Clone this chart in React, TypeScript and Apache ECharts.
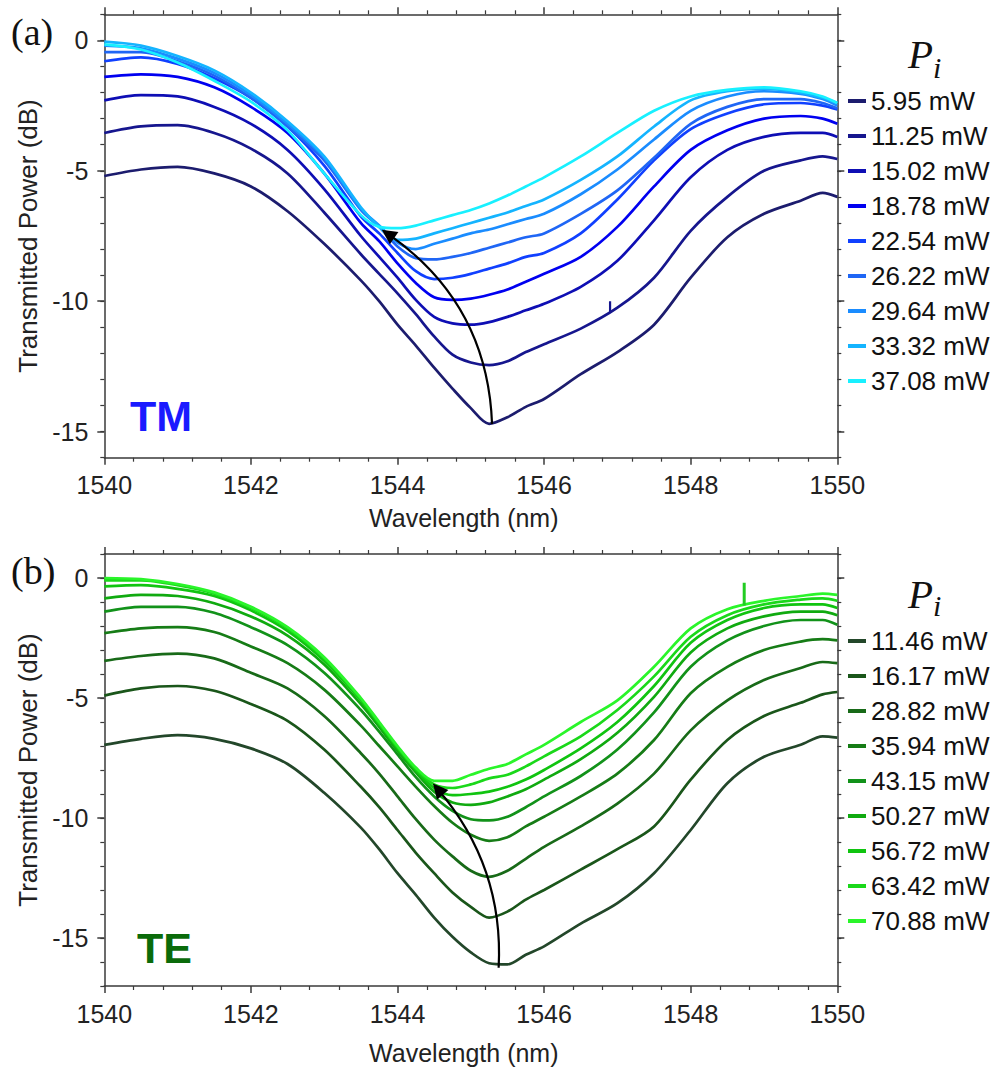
import React, { useEffect, useRef } from 'react';
import * as echarts from 'echarts';

// ---------- shared wavelength grid (nm) ----------
const wavelengths = [1540, 1540.5, 1541, 1541.5, 1542, 1542.5, 1543, 1543.5, 1543.75, 1544, 1544.25, 1544.5, 1544.75, 1545, 1545.25, 1545.5, 1545.75, 1546, 1546.5, 1547, 1547.5, 1548, 1548.5, 1549, 1549.5, 1549.8, 1550];

// ---------- panel (a) TM ----------
const tmNames = ['5.95 mW', '11.25 mW', '15.02 mW', '18.78 mW', '22.54 mW', '26.22 mW', '29.64 mW', '33.32 mW', '37.08 mW'];
const tmColors = ['#1c1c6e', '#16168e', '#0e0eb4', '#0000f0', '#1040ff', '#1f66f5', '#1a8cff', '#14b4ff', '#18f0ff'];
const tm595 = [-5.2, -4.95, -4.85, -5.1, -5.6, -6.55, -7.8, -9.2, -10.0, -10.9, -11.7, -12.55, -13.35, -14.1, -14.7, -14.45, -14.05, -13.75, -12.8, -11.95, -10.9, -9.1, -7.55, -6.65, -6.15, -5.85, -6.0];
const tm1125 = [-3.55, -3.3, -3.25, -3.55, -4.15, -5.1, -6.6, -8.2, -8.95, -9.7, -10.5, -11.35, -12.05, -12.35, -12.45, -12.3, -11.95, -11.65, -11.05, -10.25, -9.1, -7.3, -6.0, -5.0, -4.6, -4.45, -4.55];
const tm1502 = [-2.3, -2.1, -2.15, -2.55, -3.2, -4.2, -5.7, -7.5, -8.3, -9.1, -9.95, -10.6, -10.85, -10.9, -10.8, -10.6, -10.35, -10.1, -9.45, -8.45, -6.9, -5.25, -4.2, -3.7, -3.55, -3.55, -3.7];
const tm1878 = [-1.4, -1.3, -1.4, -1.8, -2.55, -3.55, -5.1, -7.0, -7.7, -8.55, -9.3, -9.85, -9.95, -9.9, -9.75, -9.55, -9.25, -8.95, -8.3, -7.15, -5.6, -4.2, -3.45, -3.0, -2.9, -3.0, -3.2];
const tm2254 = [-0.8, -0.65, -0.9, -1.45, -2.2, -3.3, -4.8, -6.75, -7.4, -8.15, -8.85, -9.15, -9.1, -8.95, -8.75, -8.55, -8.3, -8.15, -7.4, -6.1, -4.6, -3.4, -2.8, -2.45, -2.4, -2.5, -2.65];
const tm2622 = [-0.45, -0.45, -0.8, -1.35, -2.2, -3.3, -4.6, -6.5, -7.15, -7.9, -8.35, -8.4, -8.3, -8.15, -7.95, -7.75, -7.55, -7.4, -6.65, -5.75, -4.5, -3.2, -2.55, -2.25, -2.25, -2.4, -2.6];
const tm2964 = [-0.2, -0.3, -0.7, -1.25, -2.1, -3.2, -4.5, -6.45, -7.1, -7.75, -8.0, -7.8, -7.6, -7.4, -7.25, -7.05, -6.85, -6.65, -5.9, -4.95, -3.8, -2.7, -2.15, -1.95, -2.05, -2.25, -2.5];
const tm3332 = [-0.05, -0.2, -0.6, -1.15, -2.0, -3.1, -4.45, -6.4, -7.15, -7.65, -7.6, -7.4, -7.2, -7.0, -6.8, -6.6, -6.35, -6.1, -5.35, -4.45, -3.3, -2.3, -1.95, -1.85, -2.0, -2.2, -2.4];
const tm3708 = [-0.15, -0.35, -0.85, -1.55, -2.35, -3.45, -5.1, -6.7, -7.15, -7.2, -7.1, -6.9, -6.7, -6.5, -6.25, -5.95, -5.6, -5.25, -4.45, -3.55, -2.7, -2.15, -1.9, -1.8, -1.95, -2.15, -2.4];
const tmCurves = [tm595, tm1125, tm1502, tm1878, tm2254, tm2622, tm2964, tm3332, tm3708];
const tmSpike = [[1546.9, -10.45], [1546.9, -10.0]];
const tmArrow = [[1545.29, -14.71], [1543.87, -7.42]];

// ---------- panel (b) TE ----------
const teNames = ['11.46 mW', '16.17 mW', '28.82 mW', '35.94 mW', '43.15 mW', '50.27 mW', '56.72 mW', '63.42 mW', '70.88 mW'];
const teColors = ['#23472a', '#1a561a', '#186a18', '#167c16', '#12921a', '#10aa10', '#10c410', '#1ad81a', '#2af52a'];
const te1146 = [-6.95, -6.7, -6.55, -6.7, -7.1, -7.75, -8.95, -10.4, -11.3, -12.3, -13.2, -14.15, -14.95, -15.6, -16.05, -16.1, -15.7, -15.35, -14.4, -13.55, -12.3, -10.5, -8.55, -7.45, -6.95, -6.6, -6.65];
const te1617 = [-4.9, -4.6, -4.5, -4.7, -5.25, -5.95, -7.15, -8.7, -9.55, -10.5, -11.45, -12.3, -13.1, -13.7, -14.15, -13.9, -13.4, -13.0, -12.15, -11.3, -10.35, -8.4, -6.75, -5.75, -5.2, -4.85, -4.75];
const te2882 = [-3.45, -3.25, -3.15, -3.35, -3.95, -4.6, -5.75, -7.3, -8.15, -9.1, -10.05, -10.9, -11.6, -12.2, -12.45, -12.2, -11.7, -11.2, -10.35, -9.4, -8.15, -6.35, -5.1, -4.25, -3.75, -3.5, -3.55];
const te3594 = [-2.3, -2.1, -2.05, -2.25, -2.85, -3.55, -4.65, -6.15, -7.0, -7.85, -8.7, -9.5, -10.2, -10.7, -10.95, -10.8, -10.35, -9.95, -9.1, -8.15, -6.75, -4.8, -3.7, -3.0, -2.65, -2.55, -2.6];
const te4315 = [-1.4, -1.2, -1.2, -1.45, -2.05, -2.8, -3.95, -5.5, -6.4, -7.35, -8.3, -9.1, -9.7, -10.05, -10.1, -9.95, -9.55, -9.1, -8.25, -7.15, -5.6, -3.7, -2.6, -2.0, -1.75, -1.75, -1.95];
const te5027 = [-0.85, -0.7, -0.75, -1.05, -1.6, -2.4, -3.6, -5.25, -6.2, -7.2, -8.1, -8.9, -9.35, -9.45, -9.35, -9.1, -8.8, -8.4, -7.55, -6.45, -4.95, -3.1, -2.1, -1.6, -1.4, -1.4, -1.55];
const te5672 = [-0.35, -0.3, -0.45, -0.75, -1.35, -2.2, -3.45, -5.1, -6.1, -7.1, -8.0, -8.75, -9.05, -9.0, -8.9, -8.7, -8.4, -8.0, -7.1, -6.0, -4.5, -2.7, -1.75, -1.25, -1.1, -1.1, -1.25];
const te6342 = [-0.1, -0.1, -0.3, -0.65, -1.25, -2.1, -3.35, -5.05, -6.05, -7.05, -7.95, -8.6, -8.75, -8.6, -8.35, -8.2, -7.85, -7.43, -6.6, -5.5, -4.1, -2.45, -1.55, -1.1, -0.9, -0.85, -0.95];
const te7088 = [0.0, -0.05, -0.25, -0.6, -1.2, -2.05, -3.3, -5.0, -6.0, -7.0, -7.9, -8.45, -8.45, -8.2, -7.95, -7.75, -7.35, -6.95, -6.0, -5.1, -3.7, -2.1, -1.3, -0.95, -0.75, -0.65, -0.7];
const teCurves = [te1146, te1617, te2882, te3594, te4315, te5027, te5672, te6342, te7088];
const teSpike = [[1548.73, -1.15], [1548.73, -0.2]];
const teArrow = [[1545.38, -16.24], [1544.55, -8.8]];

// ---------- axes ----------
const xMin = 1540;
const xMax = 1550;
const xStep = 2;
const yMajorTicks = [0, -5, -10, -15];
const yRangeA = [-16, 1];
const yRangeB = [-17, 1];

const AXIS_COLOR = '#3a3a3a';
const SANS = 'Liberation Sans, Arial, sans-serif';
const SERIF = 'Liberation Serif, Times New Roman, serif';

function xAxisDef(gridIndex: number, position: 'top' | 'bottom', nameGap: number) {
  const bottom = position === 'bottom';
  return {
    type: 'value',
    gridIndex,
    position,
    min: xMin,
    max: xMax,
    interval: xStep,
    name: bottom ? 'Wavelength (nm)' : '',
    nameLocation: 'middle',
    nameGap,
    nameTextStyle: { fontSize: 25, fontFamily: SANS, color: '#222', padding: [0, 14, 0, 0] },
    axisLine: { show: true, onZero: false, lineStyle: { color: AXIS_COLOR, width: 1.5 } },
    axisTick: { show: true, inside: false, length: 7, lineStyle: { color: AXIS_COLOR, width: 1.5 } },
    minorTick: { show: true, splitNumber: 5, length: 4, lineStyle: { color: AXIS_COLOR, width: 1.2 } },
    axisLabel: {
      show: bottom,
      fontSize: 25,
      fontFamily: SANS,
      color: '#222',
      margin: 15,
      formatter: (v: number) => String(v),
    },
    splitLine: { show: false },
    minorSplitLine: { show: false },
  };
}

function yAxisMajor(gridIndex: number, range: number[], position: 'left' | 'right') {
  const left = position === 'left';
  return {
    type: 'value',
    gridIndex,
    position,
    min: range[0],
    max: range[1],
    name: left ? 'Transmitted Power (dB)' : '',
    nameLocation: 'middle',
    nameGap: 62,
    nameTextStyle: { fontSize: 26, fontFamily: SANS, color: '#222' },
    axisLine: { show: true, onZero: false, lineStyle: { color: AXIS_COLOR, width: 1.5 } },
    axisTick: { show: true, inside: false, length: 7, customValues: yMajorTicks, lineStyle: { color: AXIS_COLOR, width: 1.5 } },
    axisLabel: {
      show: left,
      customValues: yMajorTicks,
      fontSize: 25,
      fontFamily: SANS,
      color: '#222',
      margin: 16,
      formatter: (v: number) => String(v),
    },
    splitLine: { show: false },
  };
}

function yAxisMinor(gridIndex: number, range: number[], position: 'left' | 'right') {
  return {
    type: 'value',
    gridIndex,
    position,
    min: range[0],
    max: range[1],
    interval: 1,
    axisLine: { show: false, onZero: false },
    axisTick: { show: true, inside: false, length: 4, lineStyle: { color: AXIS_COLOR, width: 1.2 } },
    axisLabel: { show: false },
    splitLine: { show: false },
  };
}

function curveSeries(name: string, color: string, values: number[], xAxisIndex: number, yAxisIndex: number) {
  return {
    type: 'line',
    name,
    xAxisIndex,
    yAxisIndex,
    data: wavelengths.map((w, i) => [w, values[i]]),
    showSymbol: false,
    symbol: 'none',
    smooth: 0.3,
    silent: true,
    lineStyle: { color, width: 2.7 },
    itemStyle: { color },
  };
}

function spikeSeries(color: string, data: number[][], xAxisIndex: number, yAxisIndex: number, width: number) {
  return {
    type: 'line',
    name: 'spike',
    xAxisIndex,
    yAxisIndex,
    data,
    showSymbol: false,
    symbol: 'none',
    silent: true,
    lineStyle: { color, width },
    itemStyle: { color },
  };
}

function arrowSeries(coords: number[][], curveness: number, xAxisIndex: number, yAxisIndex: number) {
  return {
    type: 'lines',
    coordinateSystem: 'cartesian2d',
    xAxisIndex,
    yAxisIndex,
    silent: true,
    z: 5,
    symbol: ['none', 'triangle'],
    symbolSize: [13, 15],
    lineStyle: { color: '#000', width: 2.2, opacity: 1, curveness },
    itemStyle: { color: '#000' },
    data: [{ coords }],
  };
}

function legendDef(names: string[], top: number) {
  return {
    data: names,
    orient: 'vertical',
    left: 848,
    top,
    padding: 0,
    itemWidth: 18,
    itemHeight: 4,
    itemGap: 9,
    icon: 'rect',
    selectedMode: false,
    textStyle: { fontSize: 26, lineHeight: 25, fontFamily: SANS, color: '#111' },
  };
}

function textEl(text: string, x: number, y: number, style: any) {
  return { type: 'text', x, y, silent: true, style: { text, align: 'left', verticalAlign: 'middle', ...style } };
}

export default function App() {
  const ref = useRef<HTMLDivElement>(null);

  useEffect(() => {
    if (!ref.current) return;
    const chart = echarts.init(ref.current, null, { renderer: 'svg' });

    const series: any[] = [];
    tmCurves.forEach((vals, i) => series.push(curveSeries(tmNames[i], tmColors[i], vals, 0, 0)));
    series.push(spikeSeries(tmColors[1], tmSpike, 0, 0, 2.2));
    teCurves.forEach((vals, i) => series.push(curveSeries(teNames[i], teColors[i], vals, 2, 4)));
    series.push(spikeSeries('#22cc22', teSpike, 2, 4, 3));
    series.push(arrowSeries(tmArrow, -0.25, 0, 0));
    series.push(arrowSeries(teArrow, -0.2, 2, 4));

    const option: any = {
      animation: false,
      backgroundColor: '#ffffff',
      grid: [
        { left: 104.3, top: 14.3, width: 733, height: 443.4, containLabel: false },
        { left: 104.3, top: 554, width: 733, height: 432, containLabel: false },
      ],
      xAxis: [
        xAxisDef(0, 'bottom', 48),
        xAxisDef(0, 'top', 0),
        xAxisDef(1, 'bottom', 54),
        xAxisDef(1, 'top', 0),
      ],
      yAxis: [
        yAxisMajor(0, yRangeA, 'left'),
        yAxisMinor(0, yRangeA, 'left'),
        yAxisMajor(0, yRangeA, 'right'),
        yAxisMinor(0, yRangeA, 'right'),
        yAxisMajor(1, yRangeB, 'left'),
        yAxisMinor(1, yRangeB, 'left'),
        yAxisMajor(1, yRangeB, 'right'),
        yAxisMinor(1, yRangeB, 'right'),
      ],
      legend: [legendDef(tmNames, 88), legendDef(teNames, 628)],
      graphic: [
        textEl('(a)', 11, 31.5, { fontSize: 38, fontFamily: SERIF, fill: '#111' }),
        textEl('(b)', 11, 571, { fontSize: 38, fontFamily: SERIF, fill: '#111' }),
        textEl('TM', 130, 415.5, { fontSize: 43, fontWeight: 'bold', fontFamily: SANS, fill: '#1a1aff' }),
        textEl('TE', 137, 947.5, { fontSize: 43, fontWeight: 'bold', fontFamily: SANS, fill: '#0a6b0a' }),
        textEl('P', 908, 54, { fontSize: 41, fontStyle: 'italic', fontFamily: SERIF, fill: '#111' }),
        textEl('i', 933, 67, { fontSize: 30, fontStyle: 'italic', fontFamily: SERIF, fill: '#111' }),
        textEl('P', 908, 593.5, { fontSize: 41, fontStyle: 'italic', fontFamily: SERIF, fill: '#111' }),
        textEl('i', 933, 605, { fontSize: 30, fontStyle: 'italic', fontFamily: SERIF, fill: '#111' }),
      ],
      series,
    };

    chart.setOption(option);
    return () => chart.dispose();
  }, []);

  return (
    <div
      ref={ref}
      style={{ position: 'absolute', left: 0, top: 0, width: 997, height: 1076, background: '#fff' }}
    />
  );
}
